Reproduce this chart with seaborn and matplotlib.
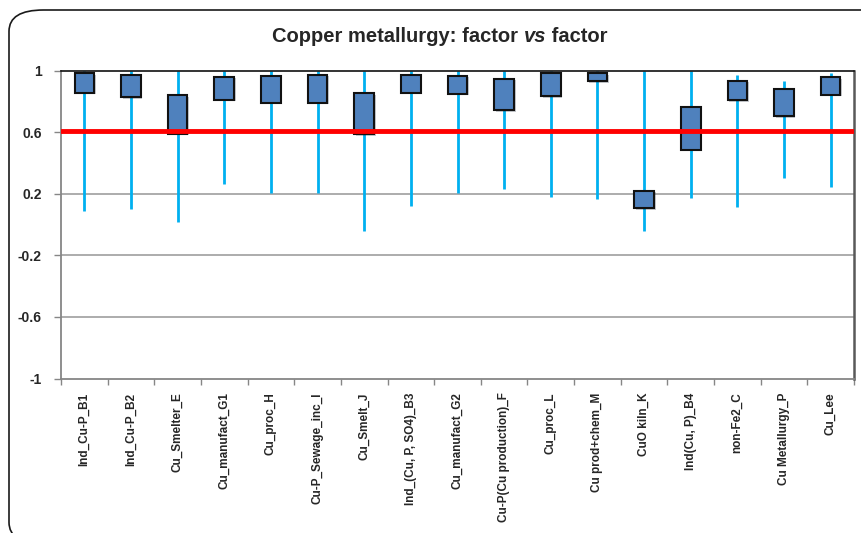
import matplotlib
matplotlib.use("Agg")
import matplotlib.pyplot as plt
import seaborn as sns
import numpy as np
import pandas as pd
from matplotlib.patches import FancyBboxPatch
import matplotlib.patheffects as pe

categories = ["Ind_Cu-P_B1", "Ind_Cu-P_B2", "Cu_Smelter_E", "Cu_manufact_G1", "Cu_proc_H",
              "Cu-P_Sewage_inc_I", "Cu_Smelt_J", "Ind_(Cu, P, SO4)_B3", "Cu_manufact_G2",
              "Cu-P(Cu production)_F", "Cu_proc_L", "Cu prod+chem_M", "CuO kiln_K",
              "Ind(Cu, P)_B4", "non-Fe2_C", "Cu Metallurgy_P", "Cu_Lee"]
box_top = [0.983, 0.974, 0.838, 0.959, 0.966, 0.972, 0.851, 0.974, 0.966, 0.946, 0.981, 0.981,
           0.219, 0.761, 0.933, 0.883, 0.957]
box_bottom = [0.856, 0.825, 0.590, 0.810, 0.791, 0.791, 0.586, 0.856, 0.849, 0.741, 0.834, 0.929,
              0.107, 0.487, 0.806, 0.704, 0.843]
whisker_high = [1.0, 1.0, 1.0, 1.0, 1.0, 1.0, 1.0, 1.0, 1.0, 1.0, 1.0, 1.0,
                1.0, 1.0, 0.968, 0.929, 0.987]
whisker_low = [0.089, 0.102, 0.018, 0.264, 0.202, 0.202, -0.042, 0.122, 0.206, 0.232, 0.180, 0.167,
               -0.040, 0.173, 0.115, 0.303, 0.245]
threshold = 0.61
y_ticks = [1, 0.6, 0.2, -0.2, -0.6, -1]
y_tick_labels = ["1", "0.6", "0.2", "-0.2", "-0.6", "-1"]
title_parts = ["Copper metallurgy: factor ", "vs", " factor"]

sns.set_style("white")
FONT = ["Liberation Sans", "DejaVu Sans"]
plt.rcParams["font.family"] = FONT

W, H = 861, 533
fig = plt.figure(figsize=(W / 100, H / 100), dpi=100)

# outer rounded chart border
border = FancyBboxPatch((9 / W, -0.02), 1.2, 1 - 10 / H + 0.02,
                        boxstyle="round,pad=0,rounding_size=0.04",
                        transform=fig.transFigure, facecolor="none",
                        edgecolor="#1a1a1a", linewidth=1.2, clip_on=False)
fig.patches.append(border)

left, right, top, bottom = 61, 854, 70.5, 378.5
ax = fig.add_axes([left / W, 1 - bottom / H, (right - left) / W, (bottom - top) / H])

df = pd.DataFrame({"cat": categories,
                   "height": np.array(box_top) - np.array(box_bottom)})
xpos = np.arange(len(categories))

# whiskers
ax.vlines(xpos, whisker_low, whisker_high, color="#00B0F0", linewidth=2, zorder=2)

# boxes
sns.barplot(data=df, x="cat", y="height", order=categories, bottom=box_bottom,
            color="#4F81BD", saturation=1, width=0.42, errorbar=None,
            edgecolor="#111111", linewidth=1.5, ax=ax, zorder=3)
for p in ax.patches:
    p.set_path_effects([pe.SimplePatchShadow(offset=(1.2, -1.2), alpha=0.25), pe.Normal()])

# threshold line
ax.axhline(threshold, color="#FF0000", linewidth=3.5, zorder=4)

ax.set_ylim(-1, 1)
ax.set_xlim(-0.5, len(categories) - 0.5)
for yv in y_ticks[1:-1]:
    ax.axhline(yv, color="#A6A6A6", linewidth=1.3, zorder=1)

ax.set_yticks(y_ticks)
ax.set_yticklabels(y_tick_labels, fontsize=10, fontweight="bold", family=FONT)
ax.tick_params(axis="y", direction="out", length=5, width=1, color="#868686", pad=9, left=True)

ax.set_xticks(xpos)
ax.set_xticklabels(categories, rotation=90, fontsize=8.5, fontweight="bold", family=FONT,
                   va="top", ha="center")
ax.tick_params(axis="x", which="major", length=0, pad=10)
ax.set_xticks(np.arange(len(categories) + 1) - 0.5, minor=True)
ax.tick_params(axis="x", which="minor", direction="out", length=4, width=1, color="#868686", bottom=True)

ax.set_xlabel("")
ax.set_ylabel("")
for s in ["left", "bottom"]:
    ax.spines[s].set_color("#868686")
    ax.spines[s].set_linewidth(1.3)
ax.spines["right"].set_color("#595959")
ax.spines["right"].set_linewidth(1.8)
ax.spines["top"].set_color("#111111")
ax.spines["top"].set_linewidth(1.2)
for s in ax.spines.values():
    s.set_visible(True)

# title with italic "vs"
fig.canvas.draw()
renderer = fig.canvas.get_renderer()
styles = ["normal", "italic", "normal"]
texts = []
for part, st in zip(title_parts, styles):
    t = fig.text(0, 1 - 37 / H, part, fontsize=14.5, fontweight="bold", style=st,
                 family=FONT, va="center", ha="left")
    texts.append(t)
widths = [t.get_window_extent(renderer).width for t in texts]
total = sum(widths)
x0 = 440 - total / 2
for t, w in zip(texts, widths):
    t.set_x(x0 / W)
    x0 += w

fig.savefig("out.png", dpi=100)
